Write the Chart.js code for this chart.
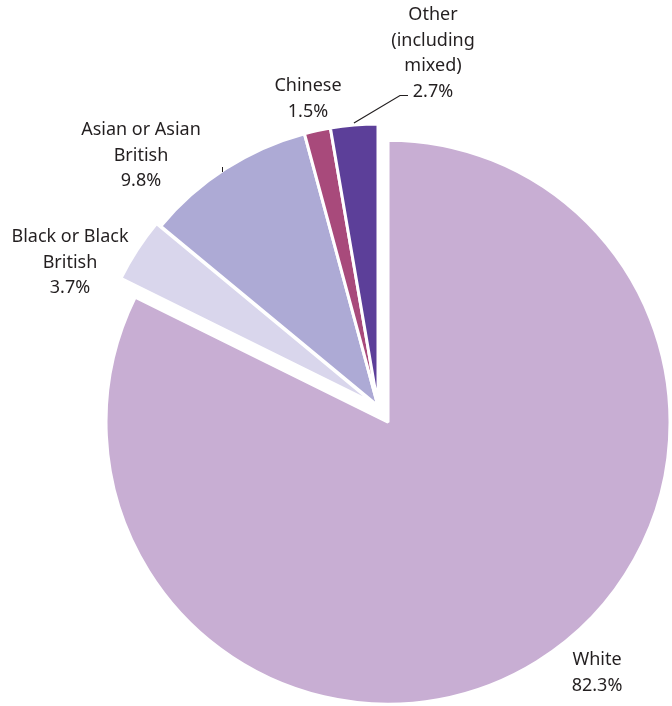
<!DOCTYPE html>
<html>
<head>
<meta charset="utf-8">
<script src="https://cdn.jsdelivr.net/npm/chart.js@4.4.0/dist/chart.umd.min.js"></script>
<style>
  html, body { margin: 0; padding: 0; background: #fff; }
  canvas { display: block; }
</style>
</head>
<body>
<canvas id="ethnicityChart" width="672" height="706"></canvas>
<script>
// Data
var categories = ['White', 'Black or Black British', 'Asian or Asian British', 'Chinese', 'Other (including mixed)'];
var values = [82.3, 3.7, 9.8, 1.5, 2.7];
var labelLines = [['White'], ['Black or Black', 'British'], ['Asian or Asian', 'British'], ['Chinese'], ['Other', '(including', 'mixed)']];
var colors = ['#c8aed3', '#d9d6ec', '#adaad5', '#a84a7b', '#5c3f99'];
// how far each slice is pulled out from the centre, in px
var explode = [19, 5, 0, 0, 0];

// where each label block sits (centre x, first line y)
var labelPos = [[597, 660], [70, 237], [141, 130], [308, 86], [433, 15]];
var lineHeight = 25.5;

// chart.js' own offset also grows the radius, so move the arc centres instead
var explodePlugin = {
    id: 'explodeSlices',
    afterDatasetUpdate: function(chart, args) {
        var arcs = chart.getDatasetMeta(args.index).data;
        for (var i = 0; i < arcs.length; i++) {
            var mid = (arcs[i].startAngle + arcs[i].endAngle) / 2;
            arcs[i].x += Math.cos(mid) * explode[i];
            arcs[i].y += Math.sin(mid) * explode[i];
        }
    }
};

var labelPlugin = {
    id: 'sliceLabels',
    afterDraw: function(chart) {
        var ctx = chart.ctx;
        var arcs = chart.getDatasetMeta(0).data;
        ctx.save();
        ctx.font = '18px "Noto Sans"';
        ctx.fillStyle = '#231f20';
        ctx.textAlign = 'center';
        ctx.textBaseline = 'middle';
        for (var i = 0; i < arcs.length; i++) {
            var lines = labelLines[i].concat([values[i].toFixed(1) + '%']);
            var x = labelPos[i][0], y = labelPos[i][1];
            for (var j = 0; j < lines.length; j++) {
                ctx.fillText(lines[j], x, y + j * lineHeight);
            }
        }

        // leader line for "Other"
        var a = arcs[4];
        var mid = (a.startAngle + a.endAngle) / 2;
        var sx = a.x + Math.cos(mid) * (a.outerRadius + 2);
        var sy = a.y + Math.sin(mid) * (a.outerRadius + 2);
        var ty = labelPos[4][1] + 3 * lineHeight + 4;
        ctx.strokeStyle = '#231f20';
        ctx.lineWidth = 1.2;
        ctx.beginPath();
        ctx.moveTo(sx, sy);
        ctx.lineTo(400, ty);
        ctx.lineTo(408, ty);
        ctx.stroke();

        // small stray tick by the Asian slice
        ctx.lineWidth = 1;
        ctx.beginPath();
        ctx.moveTo(222.5, 167);
        ctx.lineTo(222.5, 172);
        ctx.stroke();
        ctx.restore();
    }
};

var ctx = document.getElementById('ethnicityChart');
var myChart = new Chart(ctx, {
    type: 'pie',
    data: {
        labels: categories,
        datasets: [{
            data: values,
            backgroundColor: colors,
            borderColor: '#ffffff',
            borderWidth: 3,
            hoverOffset: 0
        }]
    },
    options: {
        responsive: false,
        animation: false,
        devicePixelRatio: 1,
        radius: 282,
        layout: { padding: { left: 84, top: 106, right: 0, bottom: 0 } },
        plugins: {
            legend: { display: false },
            tooltip: { enabled: false }
        }
    },
    plugins: [explodePlugin, labelPlugin]
});
</script>
</body>
</html>
